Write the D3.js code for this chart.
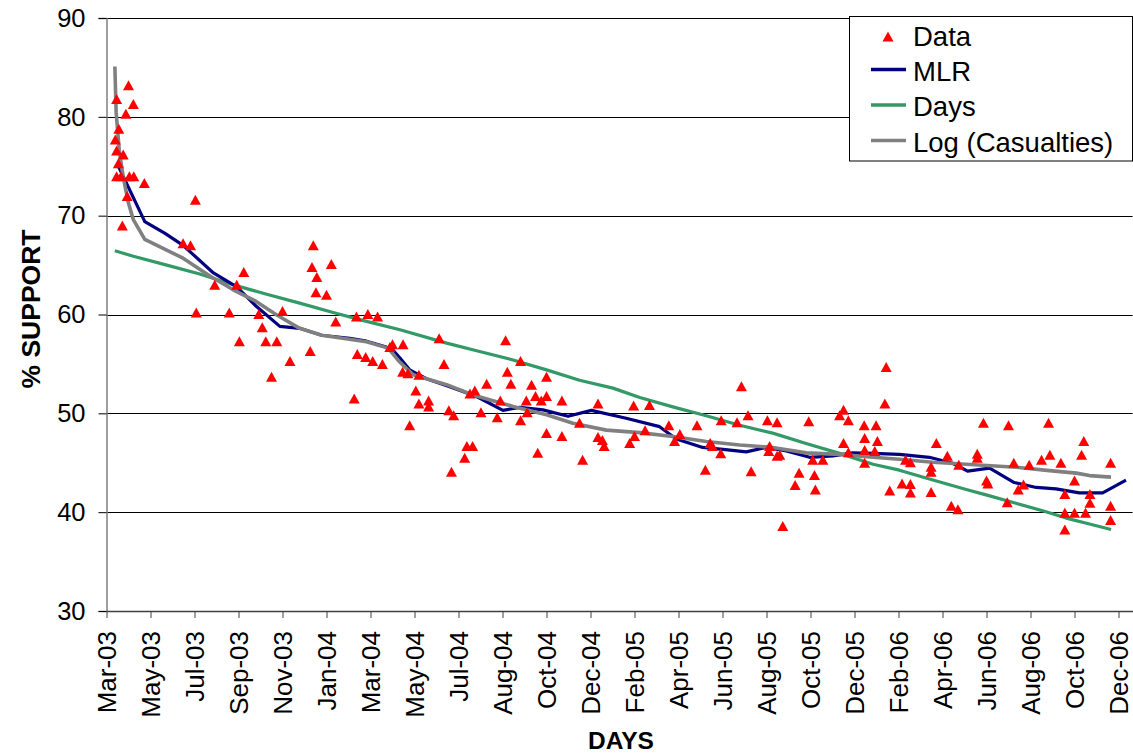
<!DOCTYPE html>
<html>
<head>
<meta charset="utf-8">
<script src="https://cdn.jsdelivr.net/npm/d3@7"></script>
<style>
  html, body { margin: 0; padding: 0; background: #fff; }
  svg { display: block; font-family: "Liberation Sans", Arial, Helvetica, sans-serif; }
</style>
</head>
<body>
<svg id="chart" width="1133" height="755"></svg>
<script>
// ---------- DATA ----------
// x = poll sequence position (category axis, label every 10 polls)
const xTickLabels = ["Mar-03","May-03","Jul-03","Sep-03","Nov-03","Jan-04","Mar-04","May-04","Jul-04","Aug-04","Oct-04","Dec-04","Feb-05","Apr-05","Jun-05","Aug-05","Oct-05","Dec-05","Feb-06","Apr-06","Jun-06","Aug-06","Oct-06","Dec-06"];
const yTicks = [30, 40, 50, 60, 70, 80, 90];

const dataX = [5.0,2.3,6.1,4.4,2.8,2.0,2.3,3.8,2.7,2.3,3.3,5.2,6.2,8.6,4.7,20.2,3.6,17.4,19.1,47.0,
  24.6,29.6,31.2,20.4,27.9,34.6,40.0,35.4,30.2,36.2,38.7,41.7,37.5,46.3,52.1,46.7,47.8,51.1,47.6,50.0,
  56.8,59.4,61.6,65.0,64.4,67.4,57.0,58.9,60.5,62.7,56.3,75.6,76.7,67.3,68.5,71.0,70.3,71.0,73.2,73.2,
  68.9,77.8,78.9,78.4,81.9,83.2,81.4,82.6,83.7,85.1,86.4,88.8,89.5,90.7,91.1,91.9,94.1,95.4,95.6,94.1,
  96.6,97.5,98.8,100.0,100.0,100.0,98.0,103.5,103.5,107.5,108.2,111.7,111.7,112.7,113.1,118.9,120.0,119.8,122.4,123.4,
  127.8,130.3,129.1,134.2,136.1,137.2,137.7,139.6,139.7,143.3,144.3,145.8,146.5,150.2,152.4,150.7,150.5,152.4,153.0,153.7,
  157.4,156.5,160.9,161.1,159.6,160.5,162.8,166.6,167.5,168.6,167.5,168.6,172.2,174.9,172.3,175.2,172.3,174.6,172.3,177.2,
  176.9,178.0,180.8,182.7,182.7,181.6,182.7,187.4,187.4,188.6,187.4,191.1,192.0,193.5,193.7,197.9,197.9,199.3,200.0,200.3,
  205.0,204.7,206.2,207.2,208.4,209.7,212.5,214.1,214.4,216.9,217.8,217.8,217.8,220.0,220.0,221.6,222.1,222.5,223.5,223.5,
  228.2,228.2,228.2];
const dataY = [83.2,81.8,81.3,80.3,78.8,77.7,76.6,76.2,75.3,74.0,74.0,74.0,74.0,73.3,72.0,71.6,69.0,67.2,67.0,67.0,
  63.0,63.0,64.3,60.2,60.2,60.05,60.35,58.7,57.3,57.3,57.3,55.3,53.7,56.3,59.3,64.8,63.8,65.1,62.25,62.0,
  59.8,60.05,59.8,57.0,56.7,57.0,56.0,55.7,55.3,55.0,51.5,57.6,55.0,54.2,54.05,53.9,52.3,51.0,51.3,50.7,
  48.8,50.3,49.8,44.1,46.7,46.7,45.5,52.0,52.3,50.1,53.0,49.6,51.3,57.4,54.2,53.0,49.3,51.3,50.1,55.3,
  52.9,51.75,51.3,51.75,53.7,48.0,46.0,51.3,47.7,49.05,45.3,51.0,47.6,47.3,46.7,47.0,47.7,50.8,48.3,50.85,
  48.8,47.9,47.2,48.8,44.3,47.0,46.7,45.95,49.3,49.1,52.75,49.8,44.15,49.3,49.1,46.7,46.2,45.7,45.8,38.6,
  44.0,42.75,43.75,42.3,49.2,45.3,45.3,49.8,50.35,49.3,47.0,46.05,48.8,48.8,47.5,47.2,46.3,46.2,45.0,54.7,
  51.0,42.2,42.9,42.85,42.0,45.3,45.05,44.6,44.1,47.0,42.05,45.7,40.65,40.3,44.8,45.9,45.5,49.05,43.2,42.9,
  48.8,41.0,45.0,42.3,42.8,44.8,45.3,49.05,45.8,45.0,41.85,39.95,38.25,43.2,39.95,45.8,47.2,39.95,41.85,40.95,
  45.0,40.65,39.2];

const mlrX = [2.6,8.7,13.3,17.4,24.3,29.6,34.1,39.4,43.9,48.9,55.3,59.1,63.6,65.1,66.7,68.9,72.7,78.0,84.1,90.1,
  93.9,99.2,104.9,110.2,118.1,125.7,129.5,135.5,140.1,145.4,149.9,154.5,159.8,165.1,169.6,174.2,180.2,187.0,192.3,195.7,
  200.7,206.3,211.3,215.8,221.1,226.4,231.7];
const mlrY = [75.1,69.4,68.2,67.0,64.2,62.8,60.8,58.8,58.6,57.9,57.6,57.3,56.7,56.4,55.6,54.4,53.5,52.7,51.7,50.3,
  50.6,50.35,49.7,50.3,49.5,48.65,47.4,46.55,46.35,46.1,46.55,46.2,45.55,45.7,46.0,45.95,45.85,45.55,44.95,44.15,
  44.45,43.0,42.5,42.35,41.95,41.95,43.25];

const daysX = [1.9,6.1,13.7,21.2,28.8,36.4,43.9,51.5,59.1,66.7,77.3,84.8,92.4,100.0,107.5,115.1,121.2,128.7,136.3,143.9,
  151.4,159.0,166.6,174.2,180.2,187.8,195.4,199.9,206.7,213.5,218.1,223.4,228.3];
const daysY = [66.45,65.9,65.0,64.1,63.0,62.05,61.15,60.2,59.3,58.45,57.1,56.25,55.4,54.4,53.35,52.55,51.6,50.65,49.75,48.8,
  48.0,46.95,45.95,44.85,44.25,43.25,42.3,41.75,40.9,40.05,39.4,38.8,38.25];

const logX = [1.9,2.2,2.9,3.8,5.0,6.1,8.7,17.4,23.5,28.8,34.1,38.7,43.9,48.9,59.1,63.6,64.4,66.4,69.7,77.3,
  83.3,92.4,100.0,106.0,113.6,121.2,128.7,136.3,143.9,151.4,159.0,166.6,174.2,180.2,187.8,195.4,206.7,214.3,220.4,223.4,228.3];
const logY = [85.1,80.4,76.6,73.9,71.25,69.6,67.6,65.7,63.9,62.5,61.3,59.95,58.6,57.9,57.25,56.65,56.4,55.3,53.9,52.9,
  51.85,50.7,49.85,49.0,48.3,48.05,47.65,47.15,46.8,46.55,46.0,45.85,45.55,45.35,45.05,44.85,44.55,44.2,43.95,43.7,43.55];

const seriesNames = ["Data", "MLR", "Days", "Log (Casualties)"];
const seriesColors = ["#FF0000", "#000080", "#339966", "#808080"];

// ---------- LAYOUT ----------
const svg = d3.select("#chart");
const plot = { left: 106.5, right: 1132.6, top: 18, bottom: 611 };

const x = d3.scaleLinear().domain([0, 233.2]).range([plot.left, plot.right]);
const y = d3.scaleLinear().domain([30, 90]).range([plot.bottom, plot.top]);

// gridlines
svg.append("g")
  .selectAll("line")
  .data(yTicks.filter(d => d > 30))
  .join("line")
  .attr("x1", plot.left).attr("x2", plot.right)
  .attr("y1", d => Math.round(y(d)) + 0.5).attr("y2", d => Math.round(y(d)) + 0.5)
  .attr("stroke", "#000").attr("stroke-width", 1);

// y axis
const yAxis = svg.append("g")
  .attr("transform", `translate(${plot.left},0)`)
  .call(d3.axisLeft(y).tickValues(yTicks).tickSize(8).tickPadding(13).tickFormat(d3.format("d")));
yAxis.select(".domain").attr("stroke", "#808080").attr("stroke-width", 1.5);
yAxis.selectAll(".tick line").attr("stroke", "#000");
yAxis.selectAll("text").attr("font-size", 25.5).attr("fill", "#000").attr("font-family", "Liberation Sans, Arial, sans-serif");

// x axis
const tickVals = xTickLabels.map((_, i) => i * 10);
const xAxis = svg.append("g")
  .attr("transform", `translate(0,${plot.bottom})`)
  .call(d3.axisBottom(x).tickValues(tickVals).tickSize(7).tickSizeOuter(0).tickFormat((d, i) => xTickLabels[i]));
xAxis.select(".domain").attr("stroke", "#404040").attr("stroke-width", 1.5);
xAxis.selectAll(".tick line").attr("stroke", "#404040");
xAxis.selectAll("text")
  .attr("font-size", 26).attr("fill", "#000")
  .attr("font-family", "Liberation Sans, Arial, sans-serif")
  .attr("text-anchor", "end")
  .attr("transform", "translate(0,20) rotate(-90)")
  .attr("x", 0).attr("y", 0).attr("dy", "0.36em");

// axis titles
svg.append("text")
  .attr("transform", "translate(40,309) rotate(-90)")
  .attr("text-anchor", "middle")
  .attr("font-size", 26.5).attr("font-weight", "bold")
  .text("% SUPPORT");
svg.append("text")
  .attr("x", 621).attr("y", 749)
  .attr("text-anchor", "middle")
  .attr("font-size", 24.5).attr("font-weight", "bold")
  .text("DAYS");

// lines
const lineGen = d3.line().x(d => x(d[0])).y(d => y(d[1]));
const zip = (a, b) => a.map((v, i) => [v, b[i]]);
const lineSeries = [
  { xs: daysX, ys: daysY, color: seriesColors[2], w: 3.2 },
  { xs: mlrX, ys: mlrY, color: seriesColors[1], w: 3.2 },
  { xs: logX, ys: logY, color: seriesColors[3], w: 3.6 }
];
svg.append("g").selectAll("path")
  .data(lineSeries)
  .join("path")
  .attr("d", s => lineGen(zip(s.xs, s.ys)))
  .attr("fill", "none")
  .attr("stroke", s => s.color)
  .attr("stroke-width", s => s.w)
  .attr("stroke-linejoin", "round");

// data markers
const tri = "M0,-5L5.5,5L-5.5,5Z";
svg.append("g").selectAll("path")
  .data(zip(dataX, dataY))
  .join("path")
  .attr("d", tri)
  .attr("transform", d => `translate(${x(d[0])},${y(d[1])})`)
  .attr("fill", seriesColors[0]);

// legend
const lg = svg.append("g");
lg.append("rect")
  .attr("x", 849.5).attr("y", 16.5).attr("width", 283).attr("height", 144.5)
  .attr("fill", "#fff").attr("stroke", "#000").attr("stroke-width", 1);
const rowY = [36.5, 71.5, 107, 142.5];
seriesNames.forEach((name, i) => {
  if (i === 0) {
    lg.append("path").attr("d", tri).attr("transform", `translate(888,${rowY[i]})`).attr("fill", seriesColors[0]);
  } else {
    lg.append("line")
      .attr("x1", 871).attr("x2", 906)
      .attr("y1", rowY[i] - 2).attr("y2", rowY[i] - 2)
      .attr("stroke", seriesColors[i]).attr("stroke-width", 3.5);
  }
  lg.append("text")
    .attr("x", 913).attr("y", rowY[i] + 9.3)
    .attr("font-size", 27.5)
    .text(name);
});
</script>
</body>
</html>
